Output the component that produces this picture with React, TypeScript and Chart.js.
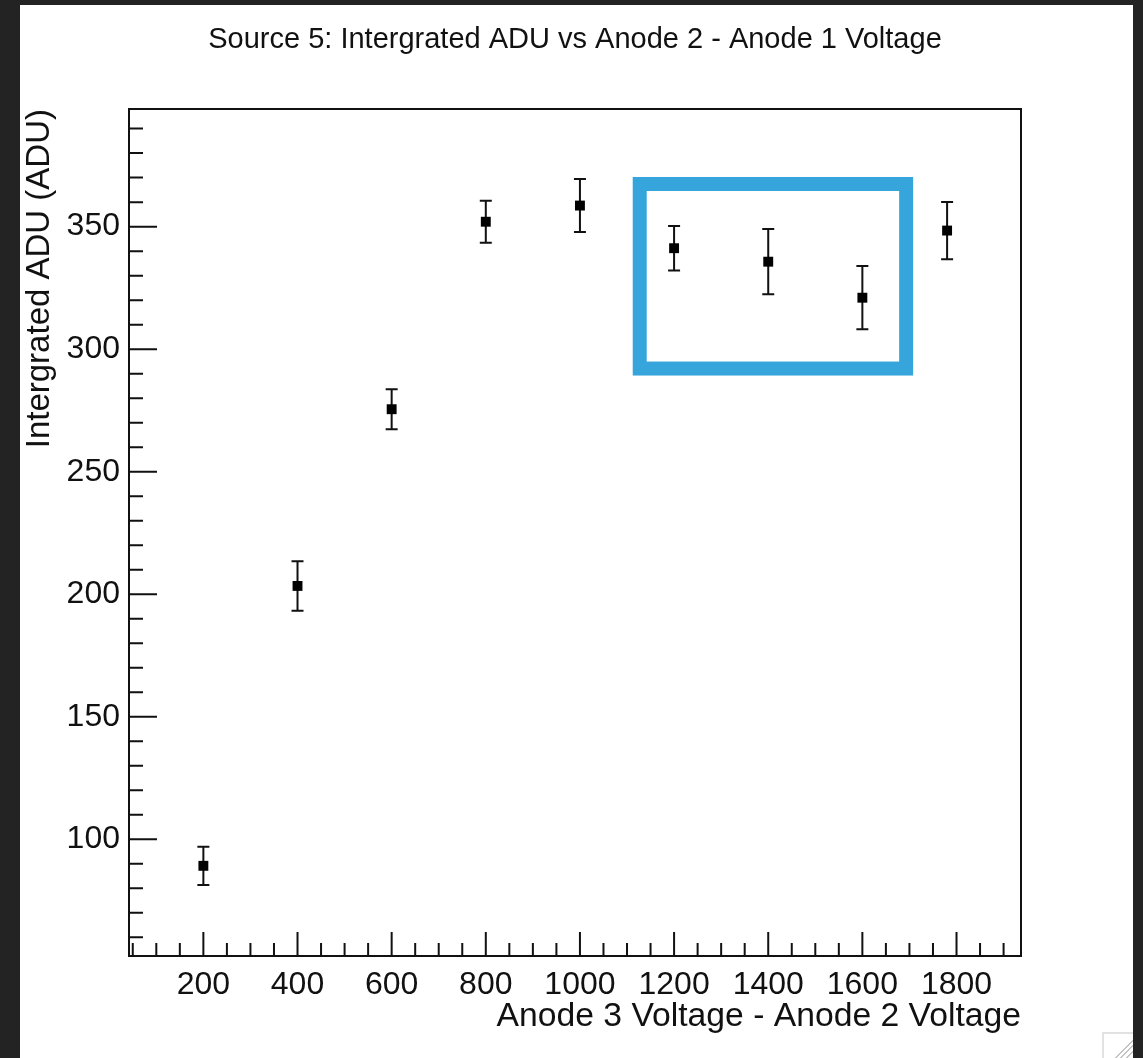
import React, { useEffect, useRef } from 'react';
import { Chart, registerables } from 'chart.js';

Chart.register(...registerables);

// Measured points: voltage difference (V) vs integrated ADU with its uncertainty
const voltageDiff = [200, 400, 600, 800, 1000, 1200, 1400, 1600, 1780];
const integratedAdu = [89.2, 203.4, 275.5, 352.0, 358.6, 341.2, 335.7, 321.0, 348.4];
const aduError = [7.8, 10.1, 8.2, 8.6, 10.8, 9.1, 13.3, 12.9, 11.7];

// Axis ranges and labelled ticks
const xRange = [42, 1937];
const yRange = [52.4, 398];
const xMajorTicks = [200, 400, 600, 800, 1000, 1200, 1400, 1600, 1800];
const yMajorTicks = [100, 150, 200, 250, 300, 350];
const X_MINOR_STEP = 50;
const X_MAJOR_STEP = 200;
const Y_MINOR_STEP = 10;
const Y_MAJOR_STEP = 50;

// Region of interest outlined in blue (voltage range, ADU range)
const highlightVoltage = [1127, 1693];
const highlightAdu = [292.1, 367.4];

const FONT = "'Liberation Sans', Arial, Helvetica, sans-serif";
const INK = '#111111';

// Vertical error bars with caps, drawn beneath the markers
const errorBarPlugin = {
  id: 'errorBars',
  beforeDatasetsDraw(chart: any) {
    const { ctx, scales } = chart;
    const x = scales.x;
    const y = scales.y;
    ctx.save();
    ctx.strokeStyle = INK;
    ctx.lineWidth = 2;
    voltageDiff.forEach((v, i) => {
      const px = x.getPixelForValue(v);
      const top = y.getPixelForValue(integratedAdu[i] + aduError[i]);
      const bot = y.getPixelForValue(integratedAdu[i] - aduError[i]);
      ctx.beginPath();
      ctx.moveTo(px, top);
      ctx.lineTo(px, bot);
      ctx.moveTo(px - 6, top);
      ctx.lineTo(px + 6, top);
      ctx.moveTo(px - 6, bot);
      ctx.lineTo(px + 6, bot);
      ctx.stroke();
    });
    ctx.restore();
  },
};

// ROOT-style boxed frame with inward major/minor ticks, plus the highlight box
const framePlugin = {
  id: 'rootFrame',
  afterDatasetsDraw(chart: any) {
    const { ctx, chartArea: a, scales } = chart;
    const x = scales.x;
    const y = scales.y;
    ctx.save();
    ctx.strokeStyle = INK;
    ctx.lineWidth = 2;
    ctx.strokeRect(a.left, a.top, a.right - a.left, a.bottom - a.top);

    ctx.beginPath();
    for (let v = Math.ceil(yRange[0] / Y_MINOR_STEP) * Y_MINOR_STEP; v <= yRange[1]; v += Y_MINOR_STEP) {
      const py = y.getPixelForValue(v);
      const len = v % Y_MAJOR_STEP === 0 ? 28 : 14;
      ctx.moveTo(a.left, py);
      ctx.lineTo(a.left + len, py);
    }
    for (let v = Math.ceil(xRange[0] / X_MINOR_STEP) * X_MINOR_STEP; v <= xRange[1]; v += X_MINOR_STEP) {
      const px = x.getPixelForValue(v);
      const len = v % X_MAJOR_STEP === 0 ? 24 : 13;
      ctx.moveTo(px, a.bottom);
      ctx.lineTo(px, a.bottom - len);
    }
    ctx.stroke();

    const hx0 = x.getPixelForValue(highlightVoltage[0]);
    const hx1 = x.getPixelForValue(highlightVoltage[1]);
    const hy0 = y.getPixelForValue(highlightAdu[1]);
    const hy1 = y.getPixelForValue(highlightAdu[0]);
    ctx.strokeStyle = '#36a5db';
    ctx.lineWidth = 14;
    ctx.strokeRect(hx0, hy0, hx1 - hx0, hy1 - hy0);
    ctx.restore();
  },
};

export default function App() {
  const canvasRef = useRef<HTMLCanvasElement | null>(null);

  useEffect(() => {
    const canvas = canvasRef.current;
    if (!canvas) return;
    const chart = new Chart(canvas, {
      type: 'scatter',
      data: {
        datasets: [
          {
            label: 'Integrated ADU',
            data: voltageDiff.map((v, i) => ({ x: v, y: integratedAdu[i] })),
            pointStyle: 'rect',
            pointRadius: 7,
            pointHoverRadius: 7,
            backgroundColor: '#000000',
            borderWidth: 0,
            showLine: false,
          },
        ],
      },
      options: {
        animation: false,
        responsive: false,
        devicePixelRatio: 1,
        events: [],
        layout: { padding: { left: 0, right: 122, top: 0, bottom: 0 } },
        plugins: {
          legend: { display: false },
          tooltip: { enabled: false },
          title: {
            display: true,
            fullSize: false,
            text: 'Source 5: Intergrated ADU vs Anode 2 - Anode 1 Voltage',
            color: INK,
            font: { family: FONT, size: 29, weight: 'normal' },
            padding: { top: 23, bottom: 51.2 },
          },
        },
        scales: {
          x: {
            type: 'linear',
            position: 'bottom',
            min: xRange[0],
            max: xRange[1],
            afterBuildTicks: (s: any) => {
              s.ticks = xMajorTicks.map((value) => ({ value }));
            },
            afterFit: (s: any) => {
              s.height = 102;
            },
            grid: { display: false, drawTicks: false },
            border: { display: false },
            ticks: {
              autoSkip: false,
              maxRotation: 0,
              padding: 10,
              color: INK,
              font: { family: FONT, size: 32 },
              callback: (v: any) => String(v),
            },
            title: {
              display: true,
              text: 'Anode 3 Voltage - Anode 2 Voltage',
              align: 'end',
              color: INK,
              font: { family: FONT, size: 33.7 },
              padding: { top: 0, bottom: 21 },
            },
          },
          y: {
            type: 'linear',
            position: 'left',
            min: yRange[0],
            max: yRange[1],
            afterBuildTicks: (s: any) => {
              s.ticks = yMajorTicks.map((value) => ({ value }));
            },
            afterFit: (s: any) => {
              s.width = 129;
            },
            grid: { display: false, drawTicks: false },
            border: { display: false },
            ticks: {
              padding: 9,
              color: INK,
              font: { family: FONT, size: 32 },
              callback: (v: any) => String(v),
            },
            title: {
              display: true,
              text: 'Intergrated ADU (ADU)',
              align: 'end',
              color: INK,
              font: { family: FONT, size: 33 },
              padding: { top: 20, bottom: 0 },
            },
          },
        },
      },
      plugins: [errorBarPlugin, framePlugin],
    });
    return () => chart.destroy();
  }, []);

  return (
    <div style={{ position: 'fixed', left: 0, top: 0, width: 1143, height: 1058, background: '#232323', overflow: 'hidden' }}>
      <div style={{ position: 'absolute', left: 20, top: 5, width: 1113, height: 1053, background: '#ffffff' }} />
      <canvas
        ref={canvasRef}
        width={1143}
        height={1058}
        style={{ position: 'absolute', left: 0, top: 0, width: 1143, height: 1058 }}
      />
      <div
        style={{
          position: 'absolute',
          left: 1102,
          top: 1032,
          width: 29,
          height: 26,
          borderLeft: '2px solid #e2e2e2',
          borderTop: '2px solid #e2e2e2',
          background:
            'linear-gradient(135deg, transparent 0px, transparent 62%, #c4c4c4 62%, #c4c4c4 66%, transparent 66%, transparent 72%, #c4c4c4 72%, #c4c4c4 76%, transparent 76%, transparent 82%, #c4c4c4 82%, #c4c4c4 86%, transparent 86%)',
        }}
      />
    </div>
  );
}
